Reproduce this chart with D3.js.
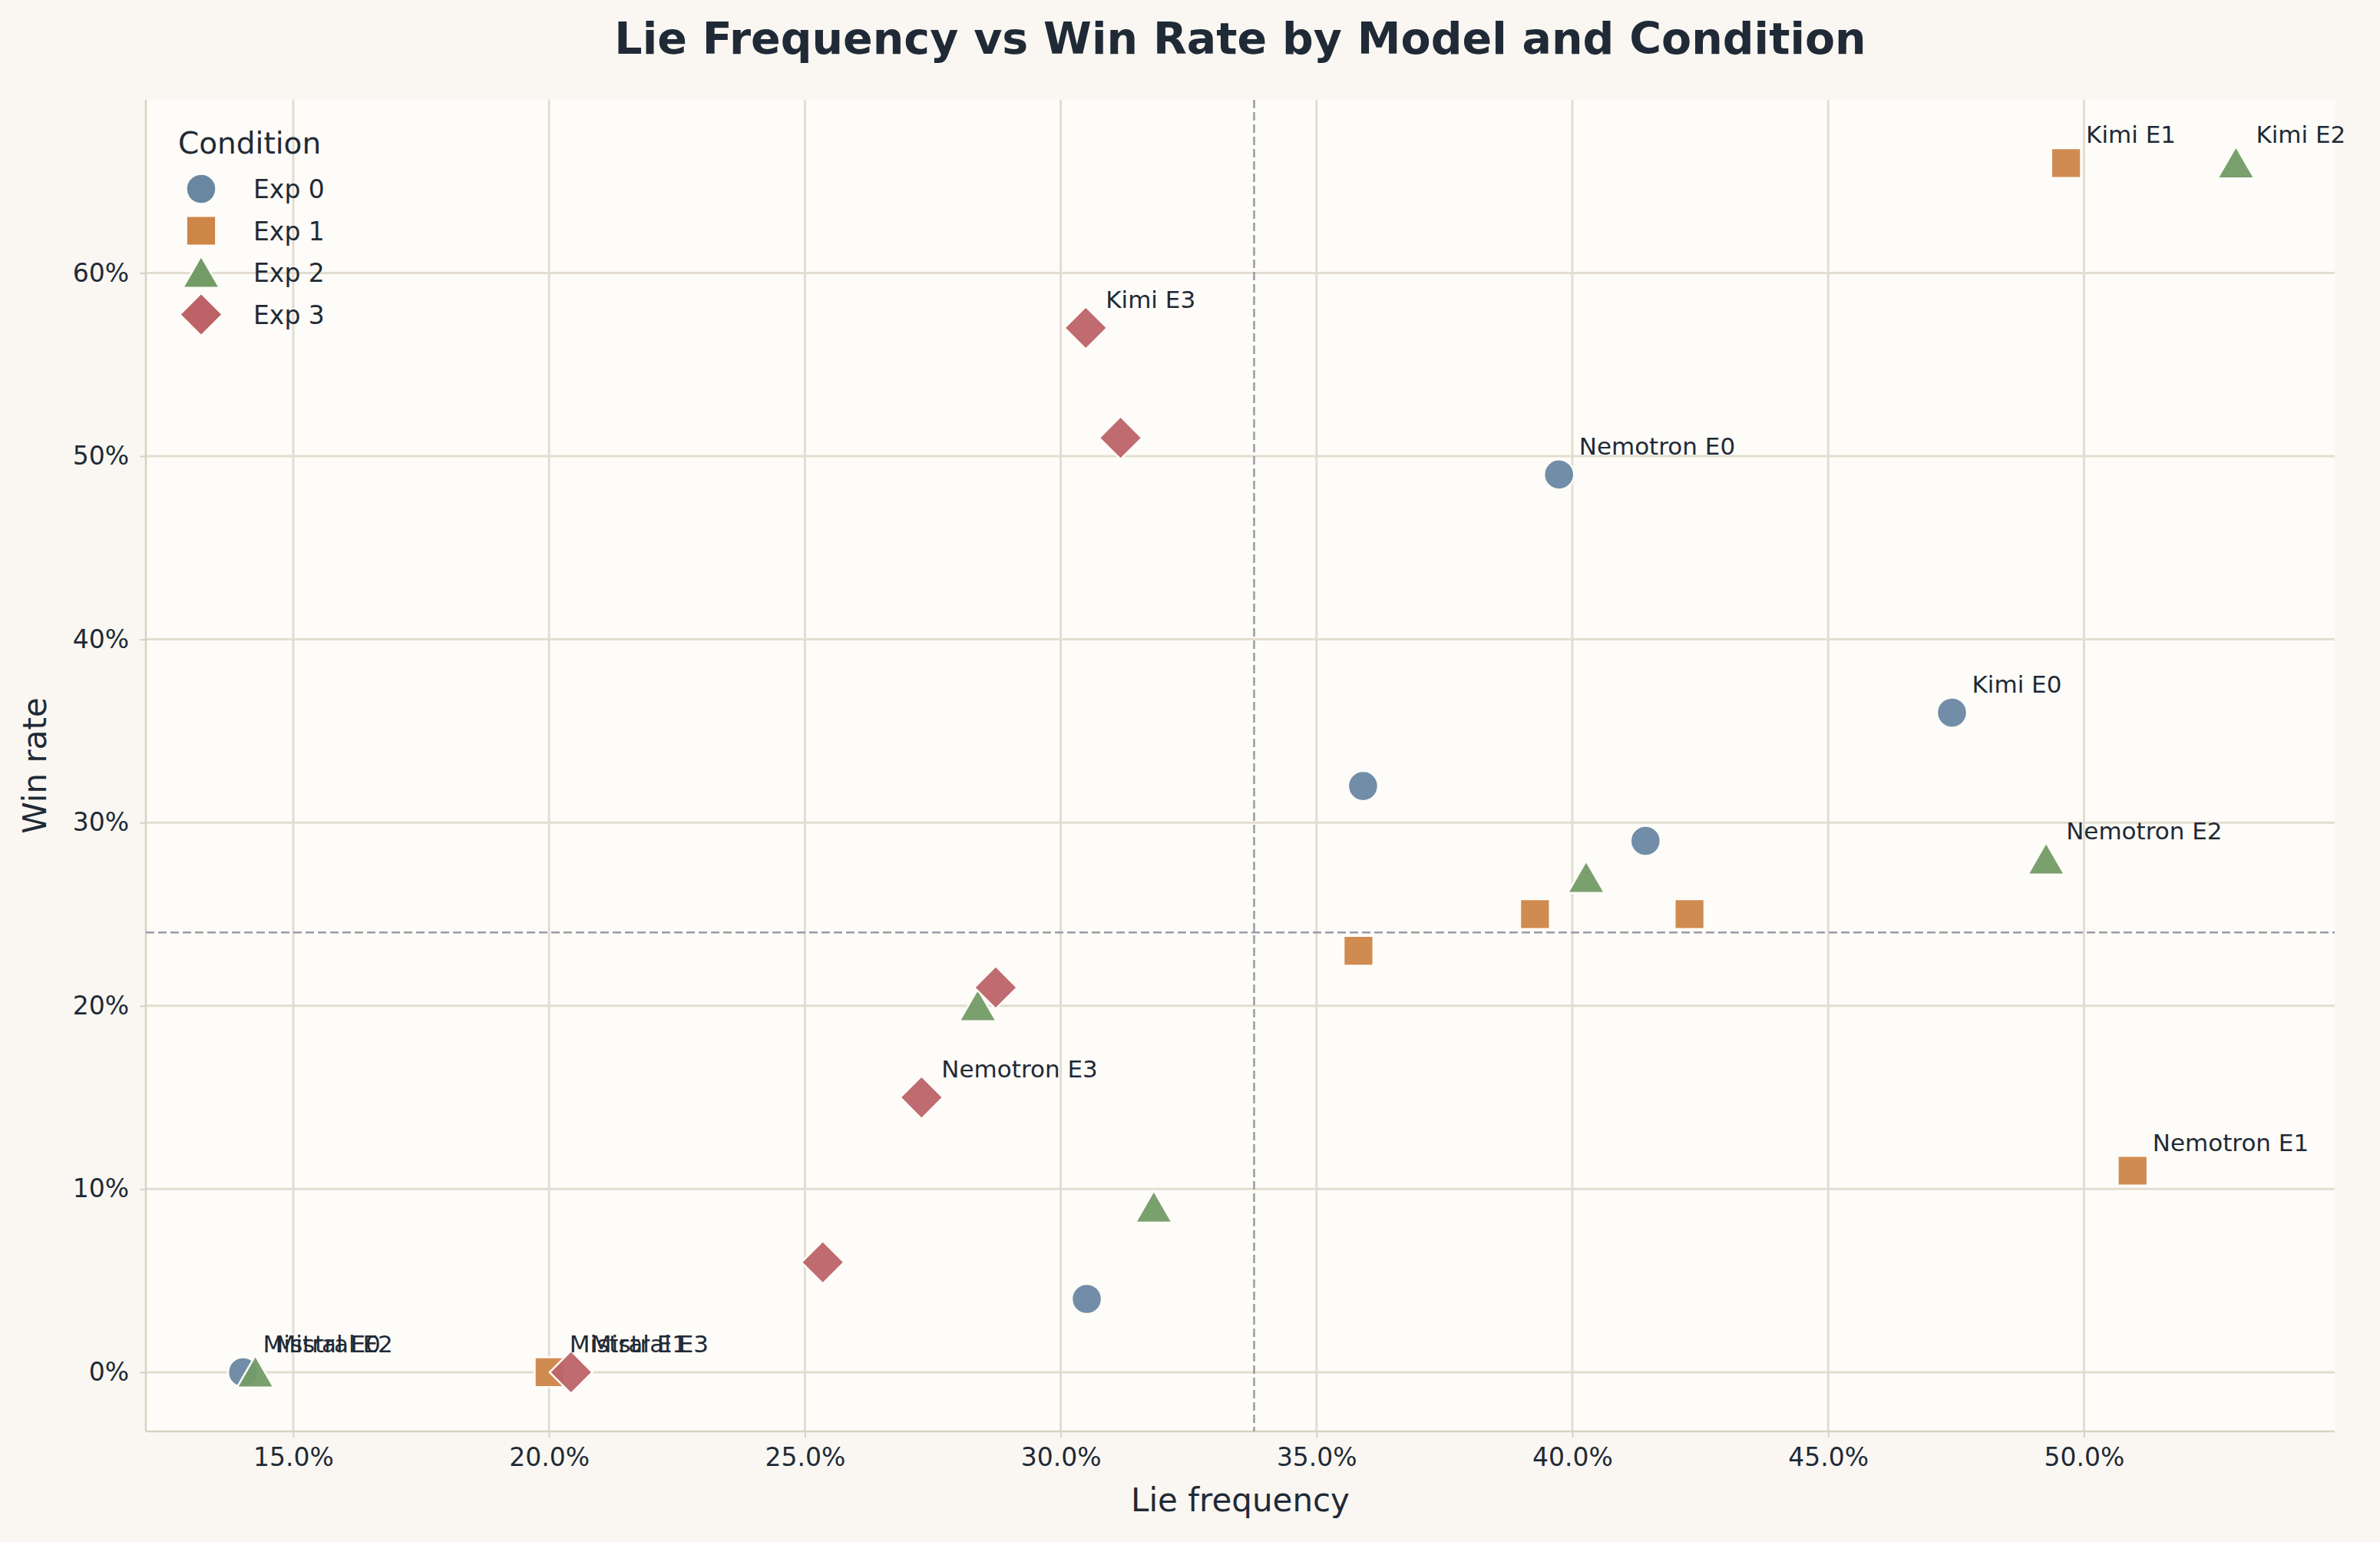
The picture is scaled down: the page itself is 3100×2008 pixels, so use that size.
<!DOCTYPE html>
<html><head><meta charset="utf-8">
<script src="https://cdn.jsdelivr.net/npm/d3@7"></script>
<style>body{margin:0;background:#faf7f2;}svg{display:block;font-family:"DejaVu Sans",sans-serif;}</style>
</head><body><svg id="c" width="3100" height="2008"></svg>
<script>
const conditions = ["Exp 0","Exp 1","Exp 2","Exp 3"];
const colors = ["#6a87a2","#cd8548","#739b66","#bd6368"];
const shapes = [d3.symbolCircle, d3.symbolSquare, d3.symbolTriangle, d3.symbolSquare];
const rotations = [0,0,0,45];
// lie frequency (%) and win rate (%) per condition
const exp0Lie = [14.02, 39.74, 47.42, 35.91, 41.43, 30.51];
const exp0Win = [0, 49, 36, 32, 29, 4];
const exp0Lab = ["Mistral E0","Nemotron E0","Kimi E0","","",""];
const exp1Lie = [49.65, 50.95, 39.27, 42.29, 35.82, 20.01];
const exp1Win = [66, 11, 25, 25, 23, 0];
const exp1Lab = ["Kimi E1","Nemotron E1","","","","Mistral E1"];
const exp2Lie = [52.97, 49.26, 40.27, 28.38, 31.82, 14.26];
const exp2Win = [66, 28, 27, 20, 9, 0];
const exp2Lab = ["Kimi E2","Nemotron E2","","","","Mistral E2"];
const exp3Lie = [30.49, 31.17, 28.73, 27.28, 25.35, 20.43];
const exp3Win = [57, 51, 21, 15, 6, 0];
const exp3Lab = ["Kimi E3","","","Nemotron E3","","Mistral E3"];
const xTicks = [15,20,25,30,35,40,45,50];
const yTicks = [0,10,20,30,40,50,60];
const meanLie = 33.78, meanWin = 24;

const lies=[exp0Lie,exp1Lie,exp2Lie,exp3Lie], wins=[exp0Win,exp1Win,exp2Win,exp3Win], labs=[exp0Lab,exp1Lab,exp2Lab,exp3Lab];
const svg=d3.select("#c");
const L=190,R=3041,T=130,B=1864;
const x=d3.scaleLinear().domain([12.12,54.9]).range([L,R]);
const y=d3.scaleLinear().domain([-3.23,69.45]).range([B,T]);
svg.append("rect").attr("x",L).attr("y",T).attr("width",R-L).attr("height",B-T).attr("fill","#fefcf8");
const g=svg.append("g");
g.selectAll(".gx").data(xTicks).join("line").attr("x1",d=>x(d)).attr("x2",d=>x(d)).attr("y1",T).attr("y2",B).attr("stroke","#e2ddd0").attr("stroke-width",3);
g.selectAll(".gy").data(yTicks).join("line").attr("y1",d=>y(d)).attr("y2",d=>y(d)).attr("x1",L).attr("x2",R).attr("stroke","#e2ddd0").attr("stroke-width",3);
svg.append("line").attr("x1",L).attr("x2",L).attr("y1",T).attr("y2",B).attr("stroke","#d8d2c2").attr("stroke-width",2.5);
svg.append("line").attr("x1",L).attr("x2",R).attr("y1",B).attr("y2",B).attr("stroke","#d8d2c2").attr("stroke-width",2.5);
const xa=svg.append("g").attr("transform",`translate(0,${B})`).call(d3.axisBottom(x).tickValues(xTicks).tickFormat(d=>d.toFixed(1)+"%").tickSize(8).tickPadding(14));
const ya=svg.append("g").attr("transform",`translate(${L},0)`).call(d3.axisLeft(y).tickValues(yTicks).tickFormat(d=>d+"%").tickSize(8).tickPadding(14));
[xa,ya].forEach(a=>{a.select(".domain").remove();a.selectAll("line").attr("stroke","#d8d2c2").attr("stroke-width",2);a.selectAll("text").attr("font-size",33).attr("fill","#1f2a36").attr("font-family","DejaVu Sans");});
svg.append("line").attr("x1",x(meanLie)).attr("x2",x(meanLie)).attr("y1",T).attr("y2",B).attr("stroke","#9a9aa6").attr("stroke-width",2.5).attr("stroke-dasharray","11,5");
svg.append("line").attr("x1",L).attr("x2",R).attr("y1",y(meanWin)).attr("y2",y(meanWin)).attr("stroke","#9a9aa6").attr("stroke-width",2.5).attr("stroke-dasharray","11,5");
const sizes=[1200,1500,1000,1550];
const yOff=[0,0,6,0];
conditions.forEach((c,i)=>{
  const pts=lies[i].map((v,j)=>({lx:v,w:wins[i][j]}));
  svg.append("g").selectAll("path").data(pts).join("path")
    .attr("d",d3.symbol().type(shapes[i]).size(sizes[i]))
    .attr("transform",d=>`translate(${x(d.lx)},${y(d.w)+yOff[i]}) rotate(${rotations[i]})`)
    .attr("fill",colors[i]).attr("fill-opacity",0.95).attr("stroke","#fefcf8").attr("stroke-width",2.5);
});
conditions.forEach((c,i)=>{
  lies[i].forEach((v,j)=>{ if(labs[i][j]) svg.append("text").attr("x",x(v)+26).attr("y",y(wins[i][j])-26).attr("font-size",31).attr("fill","#1f2a36").text(labs[i][j]); });
});
svg.append("text").attr("x",232).attr("y",200).attr("font-size",39).attr("fill","#1f2a36").text("Condition");
conditions.forEach((c,i)=>{
  const yy=246+i*54.5;
  svg.append("path").attr("d",d3.symbol().type(shapes[i]).size(sizes[i])).attr("transform",`translate(262,${yy+yOff[i]}) rotate(${rotations[i]})`).attr("fill",colors[i]).attr("stroke","#fefcf8").attr("stroke-width",2.5);
  svg.append("text").attr("x",330).attr("y",yy+12).attr("font-size",33).attr("fill","#1f2a36").text(c);
});
svg.append("text").attr("x",(L+R)/2).attr("y",70).attr("text-anchor","middle").attr("font-size",57).attr("font-weight","bold").attr("fill","#1f2a36").text("Lie Frequency vs Win Rate by Model and Condition");
svg.append("text").attr("x",(L+R)/2).attr("y",1968).attr("text-anchor","middle").attr("font-size",42).attr("fill","#1f2a36").text("Lie frequency");
svg.append("text").attr("transform",`translate(60,${(T+B)/2}) rotate(-90)`).attr("text-anchor","middle").attr("font-size",42).attr("fill","#1f2a36").text("Win rate");
</script></body></html>
